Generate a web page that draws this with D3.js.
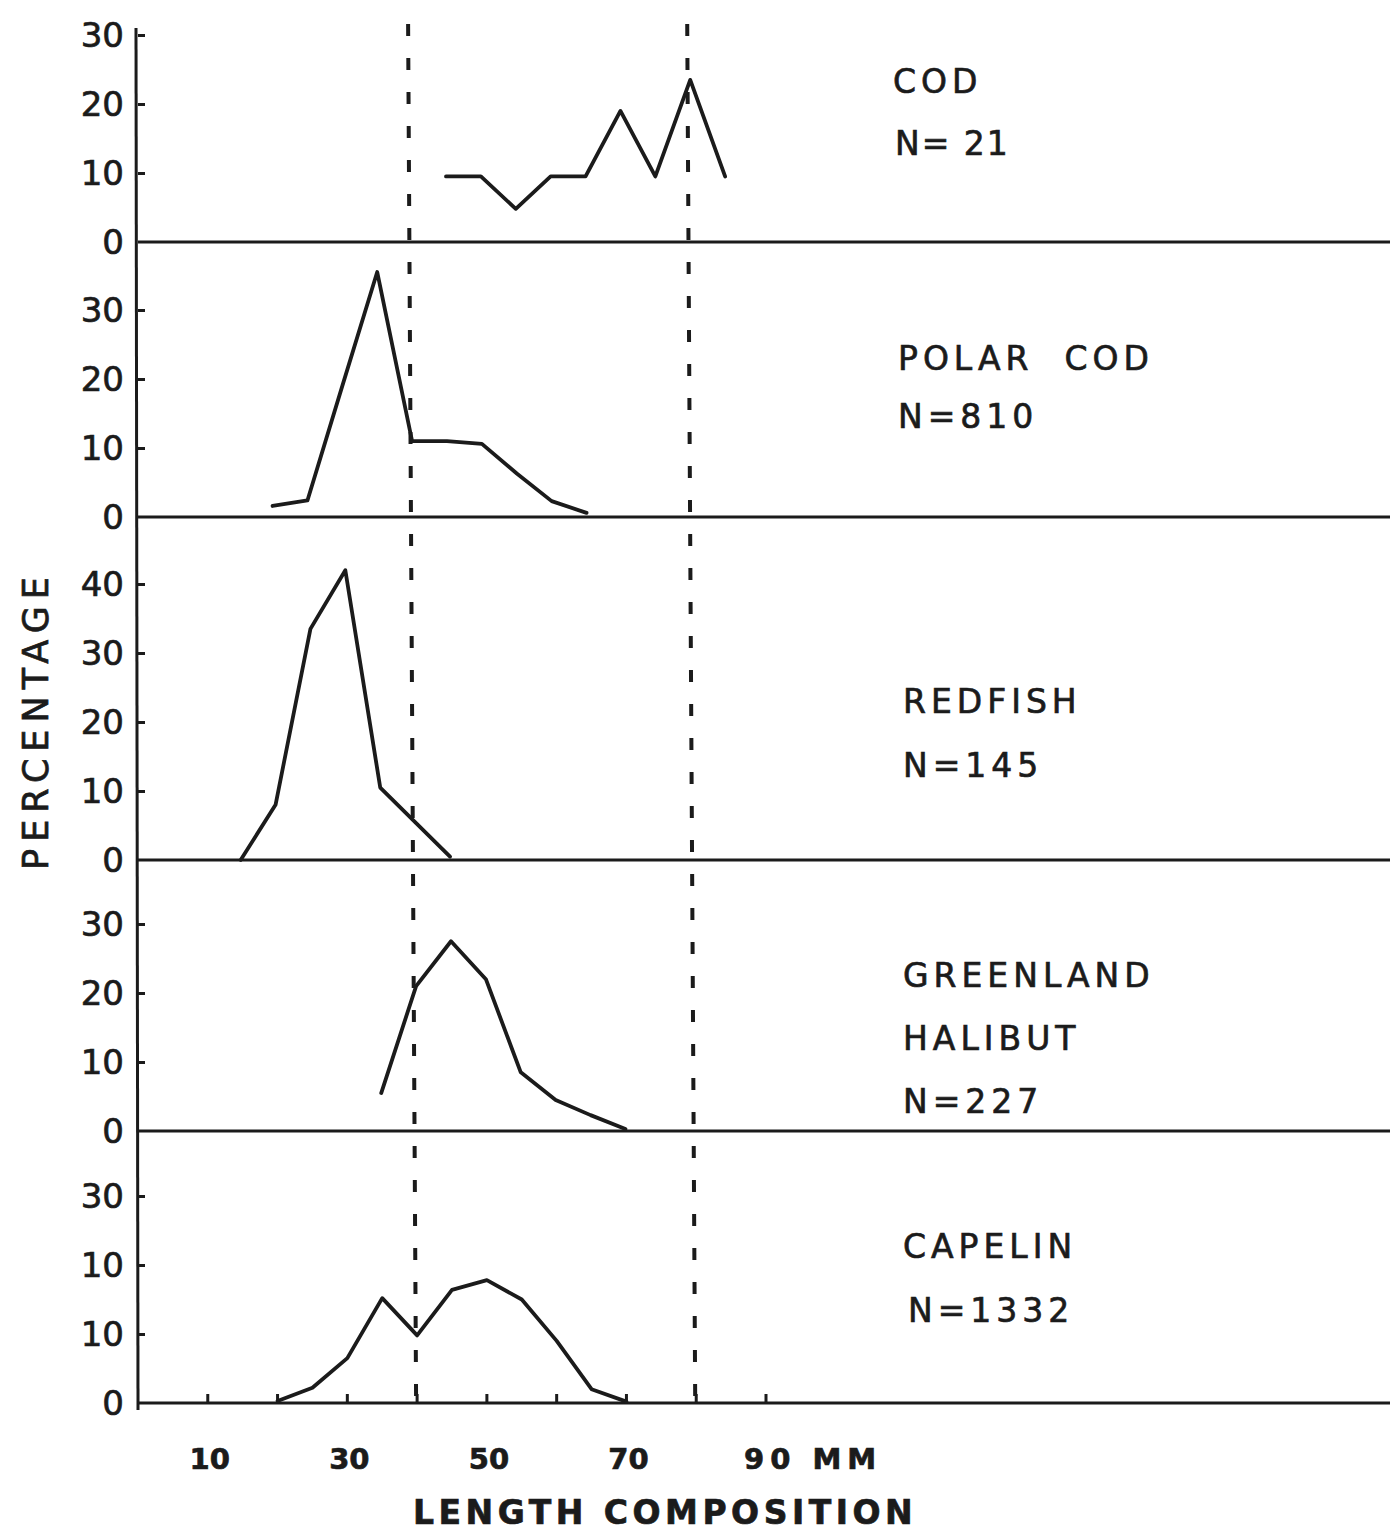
<html>
<head>
<meta charset="utf-8">
<style>
  body { margin: 0; background: #fff; }
  text { font-family: "DejaVu Sans", sans-serif; fill: #1b1b1b; stroke: #1b1b1b; stroke-width: 0.7px; }
</style>
</head>
<body>
<script src="https://cdn.jsdelivr.net/npm/d3@7"></script>
<script>
var width = 1390;
var height = 1536;

// data (length in mm, percentage)
var species = ["COD", "POLAR COD", "REDFISH", "GREENLAND HALIBUT", "CAPELIN"];
var nLabels = ["N= 21", "N=810", "N=145", "N=227", "N=1332"];

var codX = [45, 50, 55, 60, 65, 70, 75, 80, 85];
var codY = [9.5, 9.5, 4.8, 9.5, 9.5, 19, 9.5, 23.5, 9.5];

var polarX = [20, 25, 30, 35, 40, 45, 50, 55, 60, 65];
var polarY = [1.6, 2.4, 19, 35.5, 11, 11, 10.6, 6.3, 2.3, 0.6];

var redX = [15, 20, 25, 30, 35, 40, 45];
var redY = [0, 8, 33.5, 42, 10.5, 5.5, 0.5];

var halX = [35, 40, 45, 50, 55, 60, 65, 70];
var halY = [5.5, 21, 27.5, 22, 8.5, 4.5, 2.3, 0.3];

var capX = [20, 25, 30, 35, 40, 45, 50, 55, 60, 65, 70];
var capY = [0.3, 2.2, 6.5, 15.2, 9.8, 16.4, 17.8, 15, 9, 2, 0.2];

var codTicks = [0, 10, 20, 30];
var polarTicks = [0, 10, 20, 30];
var redTicks = [0, 10, 20, 30, 40];
var halTicks = [0, 10, 20, 30];
var capTicks = [0, 10, 20, 30];
var capTickLabels = ["0", "10", "10", "30"]; // as printed on the original

var xTicks = [10, 20, 30, 40, 50, 60, 70, 80, 90];
var xTickLabels = ["10", "30", "50", "70", "90 MM"];
var xLabelAt = [10, 30, 50, 70, 90];
var markLines = [40, 80];

var svg = d3.select("body").append("svg")
  .attr("width", width)
  .attr("height", height);

var x = d3.scaleLinear().domain([0, 90]).range([138, 766]);

// panel baselines, and the small lean of the hand-drawn original
var baselines = [242, 517, 860, 1131, 1403];
var lean = [-6, -5, -2, -1, 0];
var pxPerPct = 6.9;

var panels = [
  {xs: codX, ys: codY, ticks: codTicks, labels: null},
  {xs: polarX, ys: polarY, ticks: polarTicks, labels: null},
  {xs: redX, ys: redY, ticks: redTicks, labels: null},
  {xs: halX, ys: halY, ticks: halTicks, labels: null},
  {xs: capX, ys: capY, ticks: capTicks, labels: capTickLabels}
];

// vertical axis
svg.append("line")
  .attr("x1", x(0) - 2).attr("x2", x(0))
  .attr("y1", 28).attr("y2", 1410)
  .attr("stroke", "#1b1b1b").attr("stroke-width", 3);

// dashed reference lines
svg.selectAll(".mark").data(markLines).enter().append("line")
  .attr("x1", function(d){ return x(d) - 9; })
  .attr("x2", function(d){ return x(d) - 1; })
  .attr("y1", 24).attr("y2", baselines[4])
  .attr("stroke", "#1b1b1b")
  .attr("stroke-width", 4)
  .attr("stroke-dasharray", "12,22");

panels.forEach(function(p, i){
  var base = baselines[i];
  var ymax = d3.max(p.ticks);
  var y = d3.scaleLinear().domain([0, ymax]).range([base, base - ymax * pxPerPct]);

  // baseline across the whole page
  svg.append("line")
    .attr("x1", x(0)).attr("x2", width)
    .attr("y1", base).attr("y2", base)
    .attr("stroke", "#1b1b1b").attr("stroke-width", 3.2);

  var axis = d3.axisRight(y)
    .tickValues(p.ticks.filter(function(t){ return t > 0; }))
    .tickSize(7)
    .tickFormat("");
  var g = svg.append("g")
    .attr("transform", "translate(" + x(0) + ",0)")
    .call(axis);
  g.select(".domain").remove();
  g.selectAll(".tick line").attr("stroke", "#1b1b1b").attr("stroke-width", 3);

  // tick labels
  svg.selectAll(".yl" + i).data(p.ticks).enter().append("text")
    .attr("x", 124)
    .attr("y", function(d){ return y(d); })
    .attr("dy", "0.36em")
    .attr("text-anchor", "end")
    .style("font-size", "34px")
    .text(function(d, j){ return p.labels ? p.labels[j] : d; });

  // data line
  var pts = p.xs.map(function(v, j){ return [v, p.ys[j]]; });
  var line = d3.line()
    .x(function(d){ return x(d[0]) + lean[i]; })
    .y(function(d){ return y(d[1]); });
  svg.append("path")
    .attr("d", line(pts))
    .attr("fill", "none")
    .attr("stroke", "#1b1b1b")
    .attr("stroke-width", 3.8)
    .attr("stroke-linejoin", "round")
    .attr("stroke-linecap", "round");
});

// small ticks along the bottom axis
svg.selectAll(".xt").data(xTicks).enter().append("line")
  .attr("x1", function(d){ return x(d); })
  .attr("x2", function(d){ return x(d); })
  .attr("y1", baselines[4]).attr("y2", baselines[4] - 9)
  .attr("stroke", "#1b1b1b").attr("stroke-width", 3);

svg.selectAll(".xl").data(xTickLabels).enter().append("text")
  .attr("x", function(d, i){ return x(xLabelAt[i]) + (i == 4 ? -22 : 2); })
  .attr("y", 1469)
  .attr("text-anchor", function(d, i){ return i == 4 ? "start" : "middle"; })
  .style("font-size", "29px")
  .style("font-weight", "bold")
  .style("letter-spacing", function(d, i){ return i == 4 ? "6px" : "0px"; })
  .attr("xml:space", "preserve")
  .text(function(d){ return d; });

// axis titles
svg.append("text")
  .attr("x", 413).attr("y", 1524)
  .style("font-size", "33px")
  .style("font-weight", "bold")
  .style("letter-spacing", "4.5px")
  .text("LENGTH COMPOSITION");

svg.append("text")
  .attr("transform", "translate(48,720) rotate(-90)")
  .attr("text-anchor", "middle")
  .style("font-size", "35px")
  .style("letter-spacing", "7px")
  .text("PERCENTAGE");

// species labels
var labelLines = [
  [["COD", 893, 93], ["N= 21", 895, 155]],
  [["POLAR  COD", 898, 370], ["N=810", 898, 428]],
  [["REDFISH", 903, 713], ["N=145", 903, 777]],
  [["GREENLAND", 903, 987], ["HALIBUT", 903, 1050], ["N=227", 903, 1113]],
  [["CAPELIN", 903, 1258], ["N=1332", 908, 1322]]
];
labelLines.forEach(function(ls){
  ls.forEach(function(l){
    svg.append("text")
      .attr("x", l[1]).attr("y", l[2])
      .style("font-size", "33px")
      .style("letter-spacing", l[0] == "N= 21" ? "2px" : "5px")
      .attr("xml:space", "preserve")
      .text(l[0]);
  });
});
</script>
</body>
</html>
